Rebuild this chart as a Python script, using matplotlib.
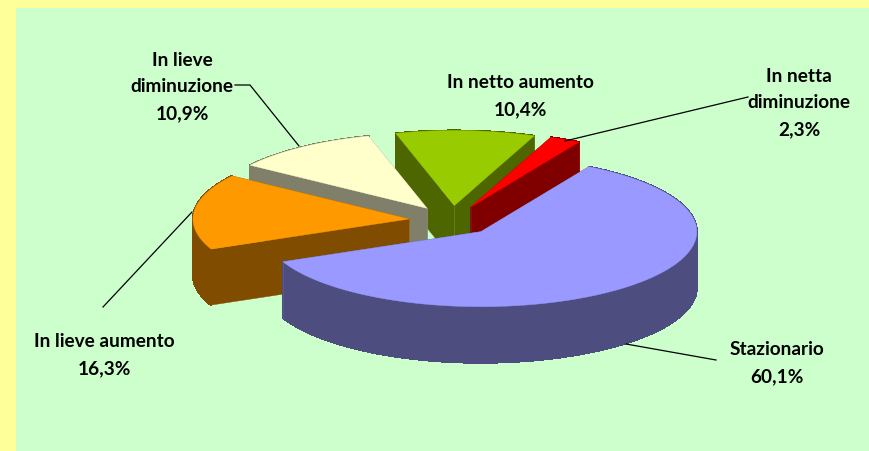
import numpy as np
import matplotlib
matplotlib.use("Agg")
import matplotlib.pyplot as plt
from matplotlib.patches import Polygon, Rectangle
from matplotlib.collections import PolyCollection

# clockwise from the start angle, as in the original sheet
labels = ["Stazionario", "In lieve aumento", "In lieve\ndiminuzione", "In netto aumento", "In netta\ndiminuzione"]
values = [60.1, 16.3, 10.9, 10.4, 2.3]
top_colors = ["#9999FF", "#FF9900", "#FFFFCC", "#99CC00", "#FF0000"]
side_colors = ["#4D4D80", "#804D00", "#80806A", "#4D6600", "#800000"]
edge_colors = ["#5C5C90", "#A06A1A", "#8C8C78", "#66801A", "#8C1010"]
label_pos = [(777, 363), (104, 355), (182, 87), (520, 96), (799, 103)]

cx, cy = 452, 220.5
rx, ry = 216, 75
depth = 56
explode = 0.2
start = 60.0

# leader lines in pixels
leaders = [
    ([626, 716], [344, 360]),
    ([192, 103], [212, 307]),
    ([235, 250, 299], [85, 85, 146]),
    ([565, 748], [141, 97]),
]

fig = plt.figure(figsize=(8.69, 4.51), dpi=100, facecolor="#FFFF99")
ax = fig.add_axes([0, 0, 1, 1])
ax.set_xlim(0, 869)
ax.set_ylim(451, 0)
ax.axis("off")
ax.add_patch(Rectangle((16, 8), 853, 443, facecolor="#CCFFCC", edgecolor="none", zorder=0))

fractions = np.array(values) / sum(values)
ends = start - np.cumsum(fractions) * 360
starts = np.concatenate([[start], ends[:-1]])

# back slices first, the big front one last
z = 1
for i in [3, 4, 2, 1, 0]:
    mid = np.radians((starts[i] + ends[i]) / 2)
    ax0 = cx + explode * rx * np.cos(mid)
    ay0 = cy - explode * ry * np.sin(mid)
    t = np.radians(np.linspace(starts[i], ends[i], 120))
    ex = ax0 + rx * np.cos(t)
    ey = ay0 - ry * np.sin(t)

    # radial faces
    for px, py in [(ex[0], ey[0]), (ex[-1], ey[-1])]:
        face = [(ax0, ay0), (px, py), (px, py + depth), (ax0, ay0 + depth)]
        ax.add_patch(Polygon(face, facecolor=side_colors[i], edgecolor=side_colors[i], lw=0.3, zorder=z))
    # outer rim as strips, one polygon would leave a hole where the curve turns back
    # no antialiasing or the seams between strips show up
    strips = [[(ex[k], ey[k]), (ex[k + 1], ey[k + 1]), (ex[k + 1], ey[k + 1] + depth), (ex[k], ey[k] + depth)]
              for k in range(len(ex) - 1)]
    ax.add_collection(PolyCollection(strips, facecolors=side_colors[i], edgecolors=side_colors[i],
                                     linewidths=0.8, antialiaseds=False, zorder=z))
    # corner lines
    for px, py in [(ax0, ay0), (ex[-1], ey[-1])]:
        ax.plot([px, px], [py, py + depth], color=edge_colors[i], lw=0.6, zorder=z)
    # top
    top = [(ax0, ay0)] + list(zip(ex, ey))
    ax.add_patch(Polygon(top, facecolor=top_colors[i], edgecolor=top_colors[i], lw=0.3, zorder=z))
    z += 1

for lx, ly in leaders:
    ax.plot(lx, ly, color="black", lw=0.9, zorder=20)

for name, val, (x, y) in zip(labels, values, label_pos):
    txt = name + "\n" + f"{val:.1f}".replace(".", ",") + "%"
    ax.text(x, y, txt, ha="center", va="center", family="Lato", weight="bold",
            fontsize=13.7, color="black", linespacing=1.7, zorder=21)

fig.savefig("out.png", dpi=100, facecolor=fig.get_facecolor())
